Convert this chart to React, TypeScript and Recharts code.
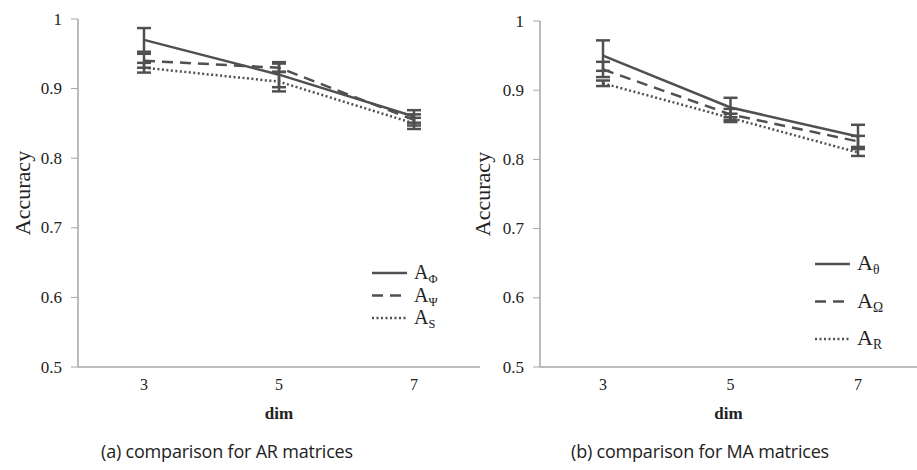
import { ErrorBar, Label, Legend, Line, LineChart, XAxis, YAxis } from 'recharts';

// dimension of the matrices (x categories)
const dims = ['3', '5', '7'];
const yTicks = [0.5, 0.6, 0.7, 0.8, 0.9, 1];

// (a) AR matrices
const arPhi = [0.97, 0.92, 0.86];
const arPhiErr = [0.017, 0.018, 0.009];
const arPsi = [0.94, 0.93, 0.855];
const arPsiErr = [0.01, 0.006, 0.008];
const arS = [0.93, 0.91, 0.85];
const arSErr = [0.007, 0.014, 0.008];

// (b) MA matrices
const maTheta = [0.95, 0.875, 0.833];
const maThetaErr = [0.022, 0.014, 0.017];
const maOmega = [0.93, 0.865, 0.826];
const maOmegaErr = [0.011, 0.008, 0.008];
const maR = [0.91, 0.86, 0.81];
const maRErr = [0.004, 0.006, 0.005];

const ink = '#505050';
const axisGray = '#a6a6a6';
const serif = 'Liberation Serif, DejaVu Serif, serif';

const styles = [
  { dash: undefined, width: 2.5 },
  { dash: '11 7', width: 2.5 },
  { dash: '2 2.5', width: 2.5 },
];

type Series = { key: string; sub: string; values: number[]; errors: number[] };

const XTick = ({ x, y, payload }: any) => (
  <text x={x} y={y + 15} textAnchor="middle" fontFamily={serif} fontSize={16} fill="#222">
    {payload.value}
  </text>
);

const YTick = ({ x, y, payload }: any) => (
  <text x={x} y={y} textAnchor="end" dominantBaseline="central" fontFamily={serif} fontSize={17} fill="#222">
    {String(Number(payload.value.toFixed(1)))}
  </text>
);

function LegendBox({ series, gap, size }: { series: Series[]; gap: number; size: number }) {
  return (
    <svg width={120} height={gap * 3 + 14}>
      {series.map((s, i) => {
        const y = 14 + i * gap;
        return (
          <g key={s.key}>
            <line x1={0} x2={35} y1={y} y2={y} stroke={ink} strokeWidth={styles[i].width} strokeDasharray={styles[i].dash} />
            <text x={42} y={y + 6} fontFamily={serif} fontSize={size} fill="#222">
              A<tspan fontSize={size * 0.62} dy={4}>{s.sub}</tspan>
            </text>
          </g>
        );
      })}
    </svg>
  );
}

function Panel(props: {
  series: Series[];
  width: number;
  top: number;
  axisWidth: number;
  padding: { left: number; right: number };
  legendPos: { left: number; top: number };
  legendGap: number;
  legendSize: number;
}) {
  const { series, width, top, axisWidth, padding, legendPos, legendGap, legendSize } = props;
  const data = dims.map((d, i) => {
    const row: Record<string, string | number> = { dim: d };
    series.forEach((s) => {
      row[s.key] = s.values[i];
      row[s.key + 'Err'] = s.errors[i];
    });
    return row;
  });
  return (
    <LineChart width={width} height={470} data={data} margin={{ top, right: 0, bottom: 51, left: 0 }}>
      <XAxis
        dataKey="dim"
        height={52}
        padding={padding}
        axisLine={{ stroke: axisGray, strokeWidth: 1.5 }}
        tickLine={false}
        tick={<XTick />}
      >
        <Label
          content={({ viewBox }: any) => (
            <text x={viewBox.x + viewBox.width / 2} y={viewBox.y + 52} textAnchor="middle" fontFamily={serif} fontSize={17} fontWeight="bold" fill="#222">
              dim
            </text>
          )}
        />
      </XAxis>
      <YAxis
        width={axisWidth}
        domain={[0.5, 1]}
        ticks={yTicks}
        interval={0}
        axisLine={{ stroke: axisGray, strokeWidth: 1.5 }}
        tickLine={{ stroke: axisGray }}
        tickSize={7}
        tickMargin={9}
        tick={<YTick />}
      >
        <Label
          content={({ viewBox }: any) => {
            const cx = viewBox.x + 22;
            const cy = viewBox.y + viewBox.height / 2;
            return (
              <text x={cx} y={cy} transform={`rotate(-90 ${cx} ${cy})`} textAnchor="middle" dominantBaseline="central" fontFamily={serif} fontSize={22} fill="#222">
                Accuracy
              </text>
            );
          }}
        />
      </YAxis>
      {series.map((s, i) => (
        <Line
          key={s.key}
          dataKey={s.key}
          stroke={ink}
          strokeWidth={styles[i].width}
          strokeDasharray={styles[i].dash}
          dot={false}
          activeDot={false}
          isAnimationActive={false}
        >
          <ErrorBar dataKey={s.key + 'Err'} width={7} strokeWidth={2.5} stroke={ink} direction="y" />
        </Line>
      ))}
      <Legend
        layout="horizontal"
        verticalAlign="middle"
        wrapperStyle={{ left: legendPos.left, top: legendPos.top, width: 120 }}
        content={() => <LegendBox series={series} gap={legendGap} size={legendSize} />}
      />
    </LineChart>
  );
}

const arSeries: Series[] = [
  { key: 'phi', sub: 'Φ', values: arPhi, errors: arPhiErr },
  { key: 'psi', sub: 'Ψ', values: arPsi, errors: arPsiErr },
  { key: 's', sub: 'S', values: arS, errors: arSErr },
];

const maSeries: Series[] = [
  { key: 'theta', sub: 'θ', values: maTheta, errors: maThetaErr },
  { key: 'omega', sub: 'Ω', values: maOmega, errors: maOmegaErr },
  { key: 'r', sub: 'R', values: maR, errors: maRErr },
];

const caption: React.CSSProperties = {
  position: 'absolute',
  top: 439,
  width: 320,
  textAlign: 'center',
  fontFamily: '"Open Sans", sans-serif',
  fontSize: 18,
  letterSpacing: -0.2,
  color: '#222',
};

export default function App() {
  return (
    <div style={{ position: 'absolute', left: 0, top: 0, width: 917, height: 470, background: '#fff', overflow: 'hidden' }}>
      <div style={{ position: 'absolute', left: 0, top: 0 }}>
        <Panel
          series={arSeries}
          width={480}
          top={19}
          axisWidth={78}
          padding={{ left: 66, right: 66 }}
          legendPos={{ left: 372, top: 259 }}
          legendGap={22.5}
          legendSize={20}
        />
      </div>
      <div style={{ position: 'absolute', left: 460, top: 0 }}>
        <Panel
          series={maSeries}
          width={457}
          top={21}
          axisWidth={80}
          padding={{ left: 63, right: 59 }}
          legendPos={{ left: 355, top: 250 }}
          legendGap={37.5}
          legendSize={22}
        />
      </div>
      <div style={{ ...caption, left: 67 }}>(a) comparison for AR matrices</div>
      <div style={{ ...caption, left: 540 }}>(b) comparison for MA matrices</div>
    </div>
  );
}
